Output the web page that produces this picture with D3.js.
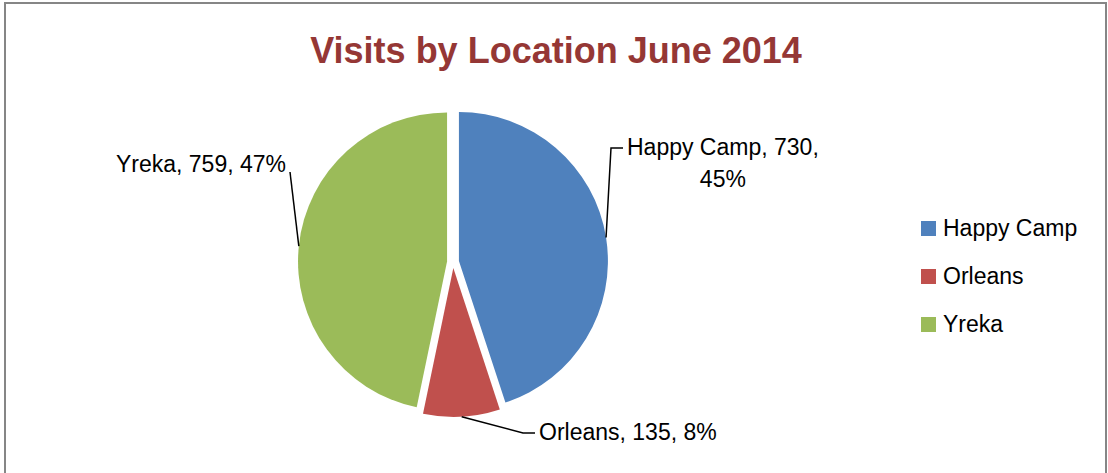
<!DOCTYPE html>
<html>
<head>
<meta charset="utf-8">
<script src="https://cdn.jsdelivr.net/npm/d3@7"></script>
<style>
  body { margin: 0; background: #fff; }
  svg { display: block; font-family: "Liberation Sans", Arial, sans-serif; }
</style>
</head>
<body>
<div class="pie-chart"></div>
<script>
// data
const locations = ['Happy Camp', 'Orleans', 'Yreka'];
const visits = [730, 135, 759];
const percents = ['45%', '8%', '47%'];
const colors = ['#4F81BD', '#C0504D', '#9BBB59'];

// label layout: elbow point of the leader line + text lines (layout only)
const labelLines = [
  ['Happy Camp, 730,', '45%'],
  ['Orleans, 135, 8%'],
  ['Yreka, 759, 47%']
];
const labelElbow = [[611, 148], [523, 433], [290, 172]];

const svg_width = 1108, svg_height = 473;
const cx = 453, cy = 262, radius = 149, explode = 6;

const svg = d3.select('.pie-chart').append('svg')
  .attr('width', svg_width).attr('height', svg_height);

// chart frame (no bottom edge visible)
svg.append('path')
  .attr('d', `M5,${svg_height} V3 H1106 V${svg_height}`)
  .attr('fill', 'none').attr('stroke', '#868686').attr('stroke-width', 2);

// title
svg.append('text')
  .attr('x', 556).attr('y', 63)
  .attr('text-anchor', 'middle')
  .style('font-size', '36px').style('font-weight', 'bold')
  .style('fill', '#953735')
  .text('Visits by Location June 2014');

const data = locations.map((d, i) => ({ name: d, value: visits[i], pct: percents[i], color: colors[i] }));

const pie = d3.pie().sort(null).value(d => d.value);
const arcs = pie(data);
const arc = d3.arc().innerRadius(0).outerRadius(radius);

const g = svg.append('g').attr('transform', `translate(${cx},${cy})`);

// slice offset along mid angle
function shift(d) {
  const a = (d.startAngle + d.endAngle) / 2;
  return [Math.sin(a) * explode, -Math.cos(a) * explode];
}

g.selectAll('.slice').data(arcs).join('path')
  .attr('class', 'slice')
  .attr('d', arc)
  .attr('transform', d => `translate(${shift(d)})`)
  .attr('fill', d => d.data.color);

// leader lines + labels
const fontSize = 23;
arcs.forEach((d, i) => {
  const a = (d.startAngle + d.endAngle) / 2;
  const s = shift(d);
  const px = cx + s[0] + Math.sin(a) * radius;
  const py = cy + s[1] - Math.cos(a) * radius;
  const [ex, ey] = labelElbow[i];
  const right = ex > cx;
  const hx = right ? ex + 12 : ex - 4;
  svg.append('polyline')
    .attr('points', right ? `${px},${py} ${ex},${ey} ${hx},${ey}` : `${px},${py} ${ex},${ey}`)
    .attr('fill', 'none').attr('stroke', '#000').attr('stroke-width', 1.5);

  const lines = labelLines[i];
  const t = svg.append('text')
    .style('font-size', fontSize + 'px').style('fill', '#000');
  if (right) {
    const tx = hx + 4;
    const first = t.append('tspan').attr('x', tx).attr('y', ey + 7).text(lines[0]);
    if (lines.length > 1) {
      const w = first.node().getComputedTextLength();
      t.append('tspan').attr('x', tx + w / 2).attr('y', ey + 7 + 32)
        .attr('text-anchor', 'middle').text(lines[1]);
    }
  } else {
    t.attr('x', hx).attr('y', ey).attr('text-anchor', 'end').text(lines[0]);
  }
});

// legend
const legend = svg.append('g').attr('transform', 'translate(921,221)');
const row = legend.selectAll('.legend-row').data(data).join('g')
  .attr('class', 'legend-row')
  .attr('transform', (d, i) => `translate(0,${i * 48})`);
row.append('rect').attr('width', 15).attr('height', 15).attr('fill', d => d.color);
row.append('text').attr('x', 22).attr('y', 15)
  .style('font-size', fontSize + 'px').text(d => d.name);
</script>
</body>
</html>
